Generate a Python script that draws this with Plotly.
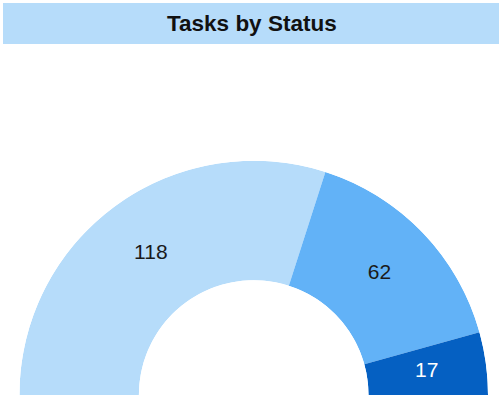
import plotly.graph_objects as go

# ---- data ----
statuses = ["Status A", "Status B", "Status C"]
counts = [118, 62, 17]
slice_colors = ["#B6DCFA", "#62B2F7", "#0560C2"]
label_colors = ["#1a1a1a", "#1a1a1a", "#ffffff"]
title_text = "Tasks by Status"

total = sum(counts)
# half-donut: map counts onto 180 degrees
widths = [c / total * 180 for c in counts]
mids = []
acc = 0
for w in widths:
    mids.append(acc + w / 2)
    acc += w

fig = go.Figure()
fig.add_trace(go.Barpolar(
    r=[1] * len(counts),
    theta=mids,
    width=widths,
    marker=dict(color=slice_colors, line=dict(width=0)),
    text=statuses,
    hoverinfo="text",
    showlegend=False,
))
fig.add_trace(go.Scatterpolar(
    r=[0.5] * len(counts),
    theta=mids,
    mode="text",
    text=[str(c) for c in counts],
    textfont=dict(family="Liberation Sans, Arial, sans-serif", size=21, color=label_colors),
    hoverinfo="skip",
    showlegend=False,
))

W, H = 502, 417
fig.update_layout(
    width=W, height=H,
    margin=dict(l=0, r=0, t=0, b=0),
    paper_bgcolor="white",
    plot_bgcolor="white",
    polar=dict(
        domain=dict(x=[19.4 / W, 488 / W], y=[(H - 395) / H, (H - 160.7) / H]),
        sector=[0, 180],
        hole=0.49,
        bgcolor="white",
        radialaxis=dict(range=[0, 1], visible=False, showgrid=False, showline=False, showticklabels=False, ticks=""),
        angularaxis=dict(rotation=180, direction="clockwise", visible=False, showgrid=False,
                         showline=False, showticklabels=False, ticks=""),
    ),
    shapes=[dict(
        type="rect", xref="paper", yref="paper",
        x0=3 / W, x1=499 / W, y0=(H - 44) / H, y1=(H - 3) / H,
        fillcolor="#B6DCFA", line=dict(width=0), layer="below",
    )],
    annotations=[dict(
        text="<b>" + title_text + "</b>",
        xref="paper", yref="paper",
        x=252 / W, y=(H - 23.5) / H, xanchor="center", yanchor="middle",
        showarrow=False,
        font=dict(family="Liberation Sans, Arial, sans-serif", size=22.5, color="#111111"),
    )],
)

fig.write_html("out.html", config={"displayModeBar": False},
               post_script="document.body.style.margin='0';")
